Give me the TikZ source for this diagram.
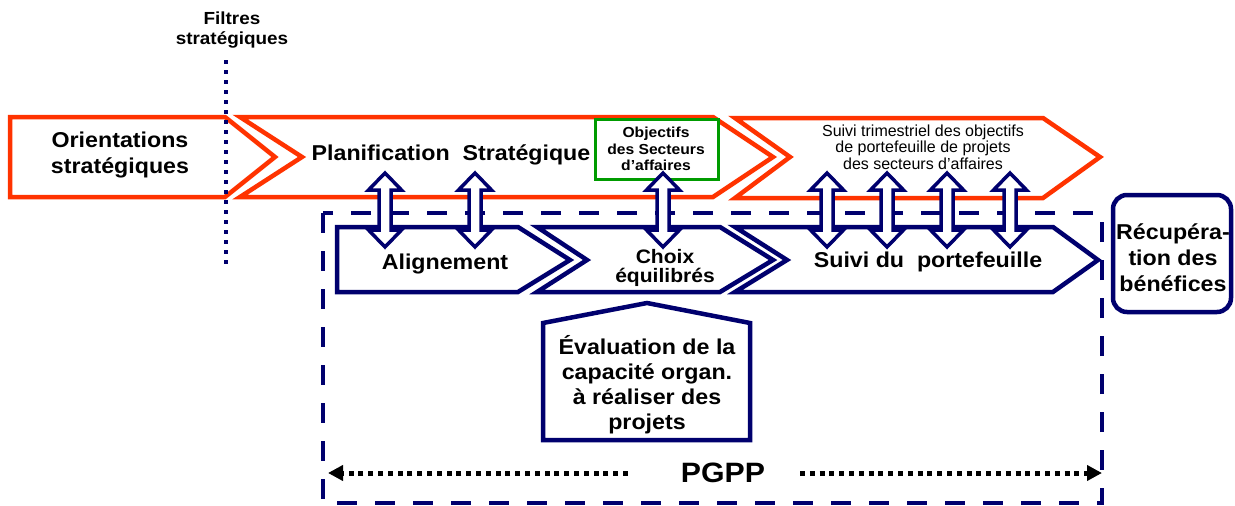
\documentclass[tikz,border=0pt]{standalone}
\usepackage{fontspec}
\setmainfont{Liberation Sans}[FakeStretch=1.08]
\newfontfamily\plainsans{Liberation Sans}
\usetikzlibrary{arrows.meta}

\definecolor{pnavy}{RGB}{0,0,110}
\definecolor{porange}{RGB}{255,51,0}
\definecolor{pgreen}{RGB}{0,155,0}

\tikzset{
  orangechev/.style={draw=porange, line width=4.5pt, fill=white, line join=miter},
  navychev/.style={draw=pnavy, line width=4.5pt, fill=white, line join=miter},
  frame/.style={draw=pnavy, line width=4pt, dash pattern=on 20pt off 18pt},
  filtre/.style={draw=pnavy, line width=4.5pt, dash pattern=on 4pt off 6pt},
  pgpparrow/.style={draw=black, line width=5pt, dash pattern=on 5pt off 4.8pt,
    -{Triangle[length=15pt,width=15pt]}},
  arrowbox/.style={draw=pnavy, line width=3.5pt, fill=white, line join=miter},
  lbl/.style={font=\bfseries\fontsize{21.5}{26}\selectfont, align=center, inner sep=0pt},
  dblarr/.pic={
    \path[arrowbox] (0,-37) -- (16.5,-20) -- (6,-20) -- (6,20) -- (16.5,20) -- (0,37)
      -- (-16.5,20) -- (-6,20) -- (-6,-20) -- (-16.5,-20) -- cycle;
  }
}

\begin{document}
\begin{tikzpicture}[x=1pt, y=-1pt]
\useasboundingbox (0,0) rectangle (1235,506);

% orange planning chevrons
\path[orangechev] (10,117) -- (225,117) -- (275,157) -- (225,197) -- (10,197) -- cycle;
\path[orangechev] (240,117) -- (713,117) -- (773,157) -- (713,197) -- (240,197) -- (302,157) -- cycle;
\path[orangechev] (735,118) -- (1043,118) -- (1100,157) -- (1043,198) -- (735,198) -- (790,157) -- cycle;

% strategic filters line, crossing the first chevron
\draw[filtre] (226,60) -- (226,268);
\node[font=\bfseries\fontsize{17.5}{20.5}\selectfont, align=center, inner sep=0pt]
  (filtres) at (232,30) {Filtres\\stratégiques};

% business sector objectives
\draw[pgreen, line width=3pt, fill=white] (595,119) rectangle (718,179);

% PGPP frame
\draw[frame] (323,213) rectangle (1102,503);

% navy portfolio chevrons
\path[navychev] (337,227) -- (518,227) -- (570,260) -- (518,292) -- (337,292) -- cycle;
\path[navychev] (537,227) -- (720,227) -- (773,260) -- (720,292) -- (537,292) -- (587,260) -- cycle;
\path[navychev] (735,227) -- (1053,227) -- (1098,260) -- (1053,292) -- (735,292) -- (787,260) -- cycle;

% capacity evaluation (house shape)
\path[navychev] (543,440) -- (543,323) -- (647,303) -- (750,323) -- (750,440) -- cycle;

% benefits realisation
\draw[pnavy, line width=4.5pt, rounded corners=14pt, fill=white] (1113,195) rectangle (1231,312);

% two-way links between planning and portfolio
\foreach \ax in {385,475,663,827,887,947,1010}
  \pic at (\ax,210) {dblarr};

% labels
\node[lbl] (orient) at (120,155) {Orientations\\stratégiques};
\node[lbl] (planif) at (451,155) {Planification\ \ Stratégique};
\node[font=\bfseries\fontsize{14.5}{16.5}\selectfont, align=center, inner sep=0pt]
  (objsect) at (656,149) {Objectifs\\des Secteurs\\d’affaires};
\node[font=\plainsans\fontsize{16}{16.5}\selectfont, align=center, inner sep=0pt]
  (trim) at (923,147) {Suivi trimestriel des objectifs\\de portefeuille de projets\\des secteurs d’affaires};
\node[lbl] (align) at (445,264) {Alignement};
\node[font=\bfseries\fontsize{19.5}{19}\selectfont, align=center, inner sep=0pt]
  (choix) at (665,268) {Choix\\équilibrés};
\node[lbl] (suivi) at (928,262) {Suivi du\ \ portefeuille};
\node[lbl] (recup) at (1173,258) {Récupéra-\\tion des\\bénéfices};
\node[lbl, font=\bfseries\fontsize{21.5}{25}\selectfont] (evalcap) at (647,385)
  {Évaluation de la\\capacité organ.\\à réaliser des\\projets};

% PGPP span
\node[font=\bfseries\fontsize{28}{30}\selectfont, inner sep=0pt] (pgpp) at (723,473) {PGPP};
\coordinate (pgppL) at (328,473);
\coordinate (pgppR) at (1102,473);
\coordinate (pgppLs) at (628,473);
\coordinate (pgppRs) at (800,473);
\draw[pgpparrow] (pgppLs) -- (pgppL);
\draw[pgpparrow] (pgppRs) -- (pgppR);
\end{tikzpicture}
\end{document}
